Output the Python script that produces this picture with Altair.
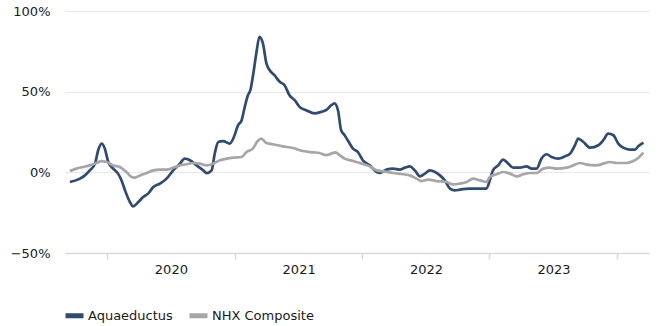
import altair as alt
import pandas as pd

aq_dates = [
    "2019-09-17", "2019-10-16", "2019-10-30", "2019-11-13", "2019-11-28", "2019-12-07",
    "2019-12-17", "2019-12-26", "2020-01-05", "2020-01-19", "2020-02-02", "2020-02-12",
    "2020-02-22", "2020-03-07", "2020-03-16", "2020-03-31", "2020-04-14", "2020-04-28",
    "2020-05-13", "2020-06-01", "2020-06-20", "2020-07-09", "2020-07-28", "2020-08-11",
    "2020-08-26", "2020-09-14", "2020-10-03", "2020-10-13", "2020-10-27", "2020-11-05",
    "2020-11-15", "2020-11-29", "2020-12-18", "2020-12-28", "2021-01-11", "2021-01-21",
    "2021-01-30", "2021-02-08", "2021-02-15", "2021-02-22", "2021-03-04", "2021-03-13",
    "2021-03-23", "2021-04-02", "2021-04-11", "2021-04-25", "2021-05-10", "2021-05-24",
    "2021-06-07", "2021-06-22", "2021-07-06", "2021-07-25", "2021-08-18", "2021-09-06",
    "2021-09-20", "2021-10-05", "2021-10-14", "2021-10-24", "2021-11-02", "2021-11-12",
    "2021-11-21", "2021-12-06", "2021-12-20", "2022-01-03", "2022-01-23", "2022-02-12",
    "2022-02-21", "2022-03-12", "2022-03-31", "2022-04-19", "2022-05-04", "2022-05-18",
    "2022-06-01", "2022-06-16", "2022-06-30", "2022-07-14", "2022-07-29", "2022-08-12",
    "2022-08-26", "2022-09-10", "2022-09-24", "2022-10-08", "2022-11-06", "2022-12-05",
    "2022-12-23", "2023-01-02", "2023-01-11", "2023-01-26", "2023-02-09", "2023-02-24",
    "2023-03-10", "2023-03-29", "2023-04-17", "2023-05-02", "2023-05-16", "2023-05-30",
    "2023-06-14", "2023-06-28", "2023-07-17", "2023-08-05", "2023-08-20", "2023-09-03",
    "2023-09-12", "2023-09-27", "2023-10-16", "2023-11-09", "2023-11-23", "2023-12-07",
    "2023-12-22", "2024-01-05", "2024-01-19", "2024-02-07", "2024-02-22", "2024-03-02",
    "2024-03-17",
]
aq_values = [
    -6.0, -3.9, -1.9, 1.2, 5.4, 13.7,
    17.8, 14.7, 6.4, 2.3, -0.8, -5.0,
    -11.2, -18.4, -21.1, -18.4, -15.3, -13.2,
    -9.1, -7.0, -3.9, 1.2, 5.4, 8.5,
    7.5, 4.3, 1.2, -0.5, 1.2, 11.6,
    18.8, 19.4, 17.8, 20.9, 29.2, 32.3,
    40.6, 47.8, 50.9, 59.2, 73.7, 84.0,
    79.9, 67.5, 63.4, 60.2, 56.1, 54.0,
    47.8, 44.7, 40.6, 38.5, 36.5, 37.5,
    38.5, 41.6, 42.7, 38.5, 26.1, 23.0,
    19.9, 14.7, 12.6, 7.5, 4.3, 0.2,
    -0.4, 1.7, 2.3, 1.7, 2.9, 3.7,
    1.2, -2.5, -0.8, 1.2, 0.2, -1.9,
    -5.0, -10.1, -11.2, -10.7, -10.1, -10.1,
    -10.1, -5.0, 1.2, 4.3, 7.9, 5.4,
    2.9, 2.9, 3.7, 2.3, 2.3, 8.5,
    11.2, 9.5, 8.5, 9.9, 11.6, 16.8,
    20.9, 18.8, 15.3, 16.8, 19.9, 24.0,
    23.0, 17.8, 15.3, 14.1, 14.1, 16.1,
    18.4,
]

nhx_dates = [
    "2019-09-17", "2019-10-06", "2019-10-25", "2019-11-13", "2019-12-02", "2019-12-17",
    "2019-12-31", "2020-01-19", "2020-02-07", "2020-02-26", "2020-03-12", "2020-03-21",
    "2020-04-05", "2020-04-24", "2020-05-13", "2020-06-01", "2020-06-20", "2020-07-09",
    "2020-07-28", "2020-08-16", "2020-09-04", "2020-09-23", "2020-10-13", "2020-11-01",
    "2020-11-20", "2020-12-09", "2020-12-28", "2021-01-21", "2021-02-04", "2021-02-22",
    "2021-03-08", "2021-03-18", "2021-04-02", "2021-04-20", "2021-05-19", "2021-06-17",
    "2021-07-15", "2021-08-13", "2021-09-01", "2021-09-20", "2021-10-05", "2021-10-17",
    "2021-10-29", "2021-11-12", "2021-12-06", "2021-12-31", "2022-01-23", "2022-02-12",
    "2022-03-03", "2022-03-31", "2022-04-29", "2022-05-18", "2022-06-06", "2022-06-21",
    "2022-07-10", "2022-08-03", "2022-08-31", "2022-09-19", "2022-10-08", "2022-10-28",
    "2022-11-15", "2022-12-05", "2022-12-23", "2023-01-02", "2023-01-21", "2023-02-09",
    "2023-03-01", "2023-03-20", "2023-04-08", "2023-04-27", "2023-05-16", "2023-06-04",
    "2023-06-23", "2023-07-12", "2023-08-10", "2023-08-29", "2023-09-17", "2023-10-06",
    "2023-11-04", "2023-11-23", "2023-12-12", "2023-12-31", "2024-01-29", "2024-02-17",
    "2024-03-02", "2024-03-17",
]
nhx_values = [
    0.8, 2.3, 3.3, 4.3, 5.8, 7.0,
    6.4, 4.3, 3.3, 0.2, -2.9, -3.3,
    -1.9, -0.4, 1.2, 1.7, 1.7, 2.9,
    4.3, 5.0, 5.8, 5.4, 4.3, 5.4,
    7.5, 8.5, 9.1, 9.5, 12.6, 14.7,
    19.4, 20.9, 18.2, 17.4, 16.1, 15.1,
    13.2, 12.4, 12.0, 10.7, 11.6, 12.4,
    10.6, 8.5, 7.0, 5.4, 3.7, 1.2,
    0.6, -0.4, -1.2, -1.9, -3.9, -5.4,
    -4.5, -5.4, -6.0, -7.5, -7.0, -6.0,
    -3.9, -5.0, -6.0, -2.9, -1.2, 0.2,
    -0.8, -2.5, -1.2, -0.4, -0.4, 2.3,
    2.9, 2.3, 2.9, 4.3, 5.8, 4.8,
    4.3, 5.4, 6.4, 5.8, 5.8, 7.0,
    8.9, 12.2,
]

series_names = ["Aquaeductus", "NHX Composite"]
series_colors = ["#2f4b72", "#a6a6a6"]
y_ticks = [-50, 0, 50, 100]
year_ticks = [2020, 2021, 2022, 2023, 2024]

df = pd.concat([
    pd.DataFrame({"date": aq_dates, "value": [v / 100 for v in aq_values], "series": series_names[0]}),
    pd.DataFrame({"date": nhx_dates, "value": [v / 100 for v in nhx_values], "series": series_names[1]}),
])
df["order"] = df["series"].map({series_names[1]: 0, series_names[0]: 1})

FONT = "DejaVu Sans"

chart = alt.Chart(df).mark_line(
    strokeWidth=2.7, interpolate="monotone"
).encode(
    x=alt.X(
        "date:T",
        title=None,
        scale=alt.Scale(
            type="utc",
            domain=[alt.DateTime(year=2019, month=9, date=3, utc=True),
                    alt.DateTime(year=2024, month=4, date=2, utc=True)],
        ),
        axis=alt.Axis(
            values=[alt.DateTime(year=y, month=1, date=1, utc=True) for y in year_ticks],
            labelExpr="utcyear(datum.value) < 2024 ? utcFormat(datum.value, '%Y') : ''",
            labelOffset=64,
            grid=False,
            tickSize=6,
            tickColor="#d9d9d9",
            tickWidth=1.5,
            domainColor="#d9d9d9",
            domainWidth=1.5,
            labelPadding=4,
            labelFont=FONT,
            labelFontSize=13,
            labelColor="#1a1a1a",
        ),
    ),
    y=alt.Y(
        "value:Q",
        title=None,
        scale=alt.Scale(domain=[-0.5, 1.0], nice=False),
        axis=alt.Axis(
            values=[t / 100 for t in y_ticks],
            format=".0%",
            domain=False,
            ticks=False,
            gridColor="#e8e8e8",
            gridWidth=1,
            labelPadding=15,
            labelFont=FONT,
            labelFontSize=13,
            labelColor="#1a1a1a",
        ),
    ),
    color=alt.Color(
        "series:N",
        scale=alt.Scale(domain=series_names, range=series_colors),
        legend=alt.Legend(
            title=None,
            orient="none",
            legendX=-2,
            legendY=293,
            direction="horizontal",
            symbolType="stroke",
            symbolStrokeWidth=5,
            symbolSize=324,
            labelFont=FONT,
            labelFontSize=13,
            labelColor="#1a1a1a",
            labelOffset=2,
            columnPadding=6,
        ),
    ),
    order=alt.Order("order:Q"),
).properties(
    width=584,
    height=242,
    autosize=alt.AutoSizeParams(type="none"),
    padding={"left": 65, "top": 11, "right": 14, "bottom": 73},
).configure_view(stroke=None)

chart.save("out.html", embed_options={"renderer": "svg", "actions": False})
